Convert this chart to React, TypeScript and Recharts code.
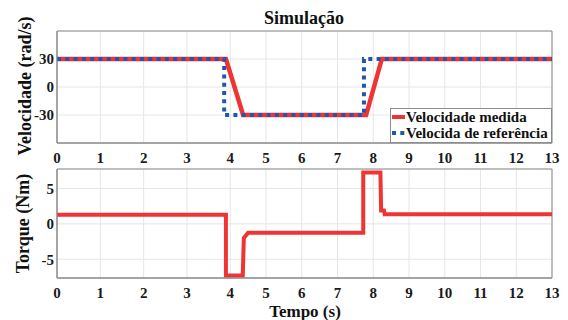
import React from "react";
import {
  LineChart,
  Line,
  XAxis,
  YAxis,
  CartesianGrid,
  ReferenceArea,
  Legend,
} from "recharts";

// time axis
const TIME_TICKS = [0, 1, 2, 3, 4, 5, 6, 7, 8, 9, 10, 11, 12, 13];

// velocity (rad/s)
const refTime = [0, 3.86, 3.86, 7.74, 7.74, 13];
const refSpeed = [30, 30, -30, -30, 30, 30];
const measTime = [0, 3.9, 4.36, 7.8, 8.24, 13];
const measSpeed = [30, 30, -30, -30, 30, 30];
const SPEED_TICKS = [-30, 0, 30];
const SPEED_NAMES = ["Velocidade medida", "Velocida de referência"];

// torque (Nm)
const torqueTime = [0, 3.9, 3.9, 4.35, 4.38, 4.5, 7.72, 7.72, 8.2, 8.22, 8.3, 8.32, 13];
const torqueVal = [1.3, 1.3, -7.3, -7.3, -2, -1.25, -1.25, 7.25, 7.25, 1.9, 1.9, 1.35, 1.35];
const TORQUE_TICKS = [-5, 0, 5];

const RED = "#ef3434";
const BLUE = "#2156b0";
const FONT = "'Liberation Serif', 'Times New Roman', serif";

const toRows = (xs: number[], ys: number[]) => xs.map((t, i) => ({ t, v: ys[i] }));

const refData = toRows(refTime, refSpeed);
const measData = toRows(measTime, measSpeed);
const torqueData = toRows(torqueTime, torqueVal);

// the published figure has an uneven time axis (0-4 is wider than 4-13),
// so use a piecewise linear scale
const WARP_KNOTS = [0, 4, 13];
const WARP_FRACS = [0, 0.35, 1];

function warpScale(): any {
  let dom = [0, 13];
  let rng = [0, 1];
  const s: any = (v: number) => {
    let i = 0;
    while (i < WARP_KNOTS.length - 2 && v > WARP_KNOTS[i + 1]) i++;
    const k = (v - WARP_KNOTS[i]) / (WARP_KNOTS[i + 1] - WARP_KNOTS[i]);
    const f = WARP_FRACS[i] + k * (WARP_FRACS[i + 1] - WARP_FRACS[i]);
    return rng[0] + f * (rng[1] - rng[0]);
  };
  s.domain = (d?: number[]) => {
    if (d === undefined) return dom.slice();
    dom = d.map(Number);
    return s;
  };
  s.range = (r?: number[]) => {
    if (r === undefined) return rng.slice();
    rng = r.map(Number);
    return s;
  };
  s.invert = (px: number) => {
    const f = (px - rng[0]) / (rng[1] - rng[0]);
    let i = 0;
    while (i < WARP_FRACS.length - 2 && f > WARP_FRACS[i + 1]) i++;
    const k = (f - WARP_FRACS[i]) / (WARP_FRACS[i + 1] - WARP_FRACS[i]);
    return WARP_KNOTS[i] + k * (WARP_KNOTS[i + 1] - WARP_KNOTS[i]);
  };
  s.ticks = () => TIME_TICKS;
  s.copy = () => warpScale().domain(dom).range(rng);
  return s;
}

const tickStyle = { fontFamily: FONT, fontWeight: 700, fontSize: 15, fill: "#1a1a1a" };

function SpeedLegend({ payload }: any) {
  // keep the series order of the figure (recharts sorts by name)
  const items = [...(payload || [])].sort(
    (a: any, b: any) => SPEED_NAMES.indexOf(a.value) - SPEED_NAMES.indexOf(b.value)
  );
  return (
    <div
      style={{
        width: 162,
        height: 35,
        boxSizing: "border-box",
        border: "1px solid #8c8c8c",
        background: "#fff",
        fontFamily: FONT,
        fontWeight: 700,
        fontSize: 15,
        color: "#111",
      }}
    >
      {items.map((p: any) => (
        <div key={p.value} style={{ display: "flex", alignItems: "center", height: 16, lineHeight: "16px" }}>
          <svg width={15} height={8} style={{ flex: "none" }}>
            <line
              x1={1}
              x2={14}
              y1={4}
              y2={4}
              stroke={p.color}
              strokeWidth={4}
              strokeDasharray={p.payload && p.payload.strokeDasharray}
            />
          </svg>
          <span style={{ whiteSpace: "nowrap" }}>{p.value}</span>
        </div>
      ))}
    </div>
  );
}

export default function App() {
  return (
    <div style={{ position: "fixed", left: 0, top: 0, width: 568, height: 320, background: "#fff" }}>
      <div style={{ position: "absolute", left: 0, top: 0 }}>
        <LineChart width={568} height={165} margin={{ top: 31, right: 16, bottom: 0, left: 0 }}>
          <CartesianGrid stroke="#e6e6e6" />
          <XAxis
            dataKey="t"
            type="number"
            domain={[0, 13]}
            scale={warpScale()}
            ticks={TIME_TICKS}
            interval={0}
            height={22}
            tickSize={3}
            tickMargin={6}
            tickLine={false}
            axisLine={{ stroke: "#8a8a8a" }}
            tick={tickStyle}
            allowDuplicatedCategory={false}
          />
          <YAxis
            type="number"
            domain={[-60, 60]}
            ticks={SPEED_TICKS}
            width={57}
            tickSize={3}
            tickMargin={0}
            tickLine={false}
            axisLine={{ stroke: "#8a8a8a" }}
            tick={tickStyle}
          />
          <ReferenceArea x1={0} x2={13} y1={-60} y2={60} fill="none" stroke="#8a8a8a" />
          <Line
            data={measData}
            dataKey="v"
            name={SPEED_NAMES[0]}
            type="linear"
            stroke={RED}
            strokeWidth={4.5}
            dot={false}
            isAnimationActive={false}
          />
          <Line
            data={refData}
            dataKey="v"
            name={SPEED_NAMES[1]}
            type="linear"
            stroke={BLUE}
            strokeWidth={4}
            strokeDasharray="4 4.3"
            dot={false}
            isAnimationActive={false}
          />
          <Legend
            layout="vertical"
            align="center"
            verticalAlign="middle"
            content={SpeedLegend}
            wrapperStyle={{ left: 390, top: 108, width: 162, height: 35 }}
          />
        </LineChart>
      </div>
      <div style={{ position: "absolute", left: 0, top: 160 }}>
        <LineChart width={568} height={160} margin={{ top: 9, right: 16, bottom: 20, left: 0 }}>
          <CartesianGrid stroke="#e6e6e6" />
          <XAxis
            dataKey="t"
            type="number"
            domain={[0, 13]}
            scale={warpScale()}
            ticks={TIME_TICKS}
            interval={0}
            height={22}
            tickSize={3}
            tickMargin={6}
            tickLine={false}
            axisLine={{ stroke: "#8a8a8a" }}
            tick={tickStyle}
          />
          <YAxis
            type="number"
            domain={[-7.65, 7.75]}
            ticks={TORQUE_TICKS}
            width={57}
            tickSize={3}
            tickMargin={0}
            tickLine={false}
            axisLine={{ stroke: "#8a8a8a" }}
            tick={tickStyle}
          />
          <ReferenceArea x1={0} x2={13} y1={-7.65} y2={7.75} fill="none" stroke="#8a8a8a" />
          <Line
            data={torqueData}
            dataKey="v"
            name="Torque"
            type="linear"
            stroke={RED}
            strokeWidth={4}
            dot={false}
            isAnimationActive={false}
          />
        </LineChart>
      </div>
      <svg
        width={568}
        height={320}
        style={{ position: "absolute", left: 0, top: 0, pointerEvents: "none" }}
        fontFamily={FONT}
        fontWeight={700}
        fontSize={18}
        fill="#111"
      >
        <text x={304} y={24} textAnchor="middle">
          Simulação
        </text>
        <text x={31} y={86} textAnchor="middle" transform="rotate(-90, 31, 86)">
          Velocidade (rad/s)
        </text>
        <text x={29} y={223.5} textAnchor="middle" transform="rotate(-90, 29, 223.5)">
          Torque (Nm)
        </text>
        <text x={305} y={316.5} textAnchor="middle" fontSize={17}>
          Tempo (s)
        </text>
      </svg>
    </div>
  );
}
